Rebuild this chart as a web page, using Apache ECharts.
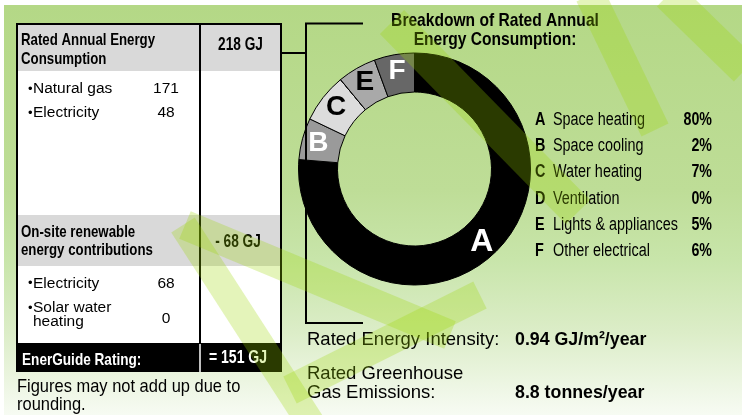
<!DOCTYPE html>
<html>
<head>
<meta charset="utf-8">
<script src="https://cdn.jsdelivr.net/npm/echarts@6/dist/echarts.min.js"></script>
<style>
    html, body { margin: 0; padding: 0; background: #fff; }
    #container0 { width: 742px; height: 415px; }
</style>
</head>
<body>
<div id="container0"></div>
<script>
var FONT = '"Liberation Sans", Arial, sans-serif';

// breakdown of rated annual energy consumption
var sliceLetters = ['A', 'B', 'C', 'D', 'E', 'F'];
var sliceNames = ['Space heating', 'Space cooling', 'Water heating', 'Ventilation', 'Lights & appliances', 'Other electrical'];
var slicePct = [80, 2, 7, 0, 5, 6];              // printed percentages
var ringShare = [76.3, 5.8, 6.9, 0, 5.4, 5.6];   // share of the ring as drawn
var sliceColors = ['#000000', '#9a9a9a', '#dcdcdc', '#c0c0c0', '#a9a9a9', '#676767'];
var sliceLabelColors = ['#ffffff', '#ffffff', '#000000', '#000000', '#000000', '#ffffff'];

// table
var consumptionTitle = ['Rated Annual Energy', 'Consumption'];
var consumptionTotal = '218 GJ';
var consumptionItems = [['Natural gas'], ['Electricity']];
var consumptionValues = [171, 48];
var renewableTitle = ['On-site renewable', 'energy contributions'];
var renewableTotal = '- 68 GJ';
var renewableItems = [['Electricity'], ['Solar water', 'heating']];
var renewableValues = [68, 0];
var ratingLabel = 'EnerGuide Rating:';
var ratingTotal = '= 151 GJ';
var footNote = ['Figures may not add up due to', 'rounding.'];

// bottom figures
var intensityLabel = ['Rated Energy Intensity:'];
var intensityValue = '0.94 GJ/m²/year';
var emissionsLabel = ['Rated Greenhouse', 'Gas Emissions:'];
var emissionsValue = '8.8 tonnes/year';

function txt(x, y, s, o) {
    o = o || {};
    return {
        type: 'text', x: x, y: y, z: o.z || 5, scaleX: o.sx || 1, silent: true,
        style: {
            text: s,
            fill: o.color || '#000',
            font: (o.bold ? 'bold ' : '') + (o.size || 16) + 'px ' + FONT,
            align: o.align || 'left',
            verticalAlign: 'middle'
        }
    };
}
function rect(x, y, w, h, fill, z) {
    return { type: 'rect', z: z || 1, silent: true, shape: { x: x, y: y, width: w, height: h }, style: { fill: fill } };
}
function line(x1, y1, x2, y2, color, lw) {
    return { type: 'line', z: 3, silent: true, shape: { x1: x1, y1: y1, x2: x2, y2: y2 }, style: { stroke: color || '#000', lineWidth: lw || 2 } };
}
// watermark stripe
function band(x1, y1, x2, y2, w) {
    var dx = x2 - x1, dy = y2 - y1, l = Math.sqrt(dx * dx + dy * dy);
    var px = -dy / l * w / 2, py = dx / l * w / 2;
    return {
        type: 'polygon', z: 50, silent: true,
        shape: { points: [[x1 + px, y1 + py], [x2 + px, y2 + py], [x2 - px, y2 - py], [x1 - px, y1 - py]] },
        style: { fill: 'rgba(157,215,0,0.27)' }
    };
}

var g = [];

// background
g.push({
    type: 'rect', z: 0, silent: true,
    shape: { x: 4, y: 5, width: 738, height: 410 },
    style: {
        fill: new echarts.graphic.LinearGradient(0, 0, 0, 1, [
            { offset: 0, color: '#b4d886' },
            { offset: 0.45, color: '#bedd97' },
            { offset: 0.62, color: '#c8e5aa' },
            { offset: 0.8, color: '#dcedc8' },
            { offset: 1, color: '#f7fbf3' }
        ])
    }
});

// table cells
g.push(rect(17, 24, 264, 319, '#ffffff'));
g.push(rect(17, 25, 264, 46, '#d9d9d9'));
g.push(rect(17, 215, 264, 51, '#d9d9d9'));
g.push(rect(16, 343, 266, 29, '#000000'));
g.push(line(16, 24, 282, 24));
g.push(line(17, 23, 17, 343));
g.push(line(281, 23, 281, 343));
g.push(line(200, 24, 200, 343));
g.push(line(200, 344, 200, 372, '#ffffff', 1.5));

// bracket
g.push({ type: 'polyline', z: 3, silent: true, shape: { points: [[363, 23.5], [306, 23.5], [306, 323], [363, 323]] }, style: { stroke: '#000', lineWidth: 2, fill: null } });
g.push(line(281, 53, 306, 53));

// table texts
var boldHead = { bold: true, size: 17, sx: 0.78 };
consumptionTitle.forEach(function (s, i) { g.push(txt(21, 40.5 + i * 19, s, boldHead)); });
g.push(txt(240.5, 45, consumptionTotal, { bold: true, size: 18, sx: 0.76, align: 'center' }));
var itemY = [89, 113];
consumptionItems.forEach(function (lines, i) {
    g.push(txt(28, itemY[i], '•', { size: 13 }));
    lines.forEach(function (s, k) { g.push(txt(33, itemY[i] + k * 14, s, { size: 15.5 })); });
    g.push(txt(166, itemY[i], String(consumptionValues[i]), { size: 15.5, align: 'center' }));
});
renewableTitle.forEach(function (s, i) { g.push(txt(21, 232 + i * 18, s, boldHead)); });
g.push(txt(238, 242, renewableTotal, { bold: true, size: 18, sx: 0.76, align: 'center' }));
var renY = [283.5, 308];
var renValY = [283.5, 319];
renewableItems.forEach(function (lines, i) {
    g.push(txt(28, renY[i], '•', { size: 13 }));
    lines.forEach(function (s, k) { g.push(txt(33, renY[i] + k * 14, s, { size: 15.5 })); });
    g.push(txt(166, renValY[i], String(renewableValues[i]), { size: 15.5, align: 'center' }));
});
g.push(txt(22, 360, ratingLabel, { bold: true, size: 17, sx: 0.8, color: '#fff' }));
g.push(txt(238, 358, ratingTotal, { bold: true, size: 18, sx: 0.78, color: '#fff', align: 'center' }));
footNote.forEach(function (s, i) { g.push(txt(17, 386.5 + i * 18.5, s, { size: 18.5, sx: 0.89 })); });

// breakdown title
g.push(txt(495, 20.5, 'Breakdown of Rated Annual', { bold: true, size: 19, sx: 0.82, align: 'center' }));
g.push(txt(495, 40, 'Energy Consumption:', { bold: true, size: 19, sx: 0.82, align: 'center' }));

// legend
sliceLetters.forEach(function (l, i) {
    var y = 120 + i * 26.25;
    g.push(txt(535, y, l, { bold: true, size: 18, sx: 0.8 }));
    g.push(txt(553, y, sliceNames[i], { size: 18, sx: 0.8 }));
    g.push(txt(712, y, slicePct[i] + '%', { bold: true, size: 18, sx: 0.79, align: 'right' }));
});

// bottom figures
g.push(txt(307, 340, intensityLabel[0], { size: 18.5 }));
g.push(txt(515, 340, intensityValue, { bold: true, size: 18.5, sx: 0.96 }));
emissionsLabel.forEach(function (s, i) { g.push(txt(307, 373.5 + i * 19.5, s, { size: 18.5 })); });
g.push(txt(515, 393, emissionsValue, { bold: true, size: 18.5, sx: 0.96 }));

// watermark
g.push(band(392, 22, 578, 212, 34));
g.push(band(590, -5, 655, 130, 30));
g.push(band(668, -5, 745, 70, 32));
g.push(band(183, 225, 312, 425, 28));
g.push(band(185, 225, 450, 335, 30));
g.push(band(480, 295, 290, 390, 30));

var ringData = sliceLetters.map(function (l, i) {
    return {
        name: l, value: ringShare[i],
        itemStyle: { color: sliceColors[i] },
        label: { color: sliceLabelColors[i], fontSize: i === 0 ? 32 : 28 }
    };
});

var opt_chart_0 = {
    animation: false,
    graphic: g,
    series: [
        {
            type: 'pie',
            center: [414.5, 169],
            radius: [77, 116],
            startAngle: 90,
            clockwise: true,
            silent: true,
            avoidLabelOverlap: false,
            itemStyle: { borderColor: '#000', borderWidth: 1 },
            label: {
                position: 'inside',
                fontFamily: FONT,
                fontWeight: 'bold',
                textBorderWidth: 0,
                formatter: function (p) { return p.value > 0 ? p.name : ''; }
            },
            labelLine: { show: false },
            data: ringData
        }
    ]
};

var chart_0 = echarts.init(document.getElementById('container0'));
chart_0.setOption(opt_chart_0);
</script>
</body>
</html>
